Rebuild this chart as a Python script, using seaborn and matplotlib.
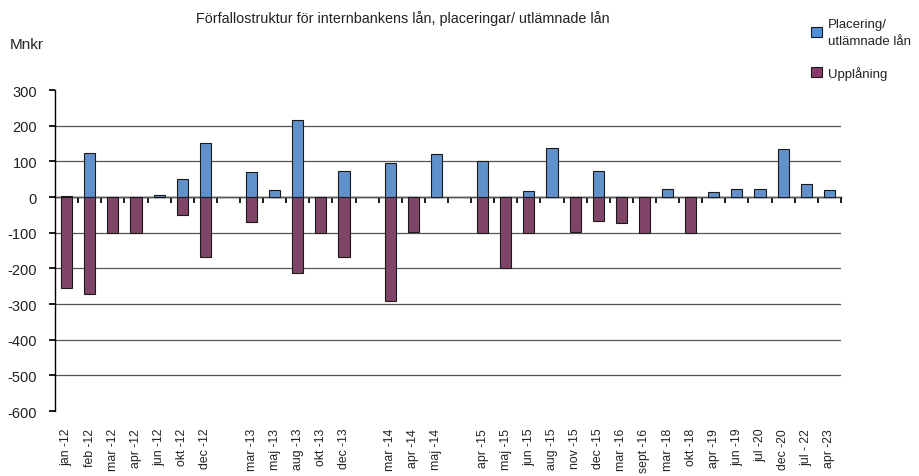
import numpy as np
import pandas as pd
import seaborn as sns
import matplotlib.pyplot as plt
from matplotlib.patches import Patch

# Data (Mnkr); blank names are empty slots on the axis
categories = ["jan -12", "feb -12", "mar -12", "apr -12", "jun -12", "okt -12", "dec -12", " ",
              "mar -13", "maj -13", "aug -13", "okt -13", "dec -13", "  ",
              "mar -14", "apr -14", "maj -14", "   ",
              "apr -15", "maj -15", "jun -15", "aug -15", "nov -15", "dec -15", "mar -16", "sept -16",
              "mar -18", "okt -18", "apr -19", "jun -19", "jul -20", "dec -20", "jul - 22", "apr -23"]
nan = np.nan
placering = [4, 124, nan, nan, 6, 51, 152, nan,
             70, 20, 217, nan, 74, nan,
             95, nan, 122, nan,
             100, nan, 18, 137, nan, 73, nan, nan,
             22, nan, 14, 24, 24, 135, 37, 20]
upplaning = [-254, -272, -100, -100, nan, -51, -168, nan,
             -71, nan, -214, -100, -167, nan,
             -290, -98, nan, nan,
             -100, -200, -100, nan, -97, -67, -72, -100,
             nan, -100, nan, nan, nan, nan, nan, nan]
series = ["Placering/\nutlämnade lån", "Upplåning"]
colors = ["#4f8fdc", "#8b3a6b"]

df = pd.DataFrame({
    "period": categories * 2,
    "serie": [series[0]] * len(categories) + [series[1]] * len(categories),
    "value": placering + upplaning,
})

sns.set_theme(style="white")
plt.rcParams['font.family'] = ['Liberation Sans', 'DejaVu Sans']
plt.rcParams['axes.unicode_minus'] = False

fig, ax = plt.subplots(figsize=(9.19, 4.77), dpi=100)
fig.subplots_adjust(left=0.06, right=0.915, bottom=0.136, top=0.809)

sns.barplot(data=df, x="period", y="value", hue="serie", order=categories, hue_order=series,
            palette=colors, dodge=False, width=0.48, errorbar=None,
            edgecolor="#1a1a1a", linewidth=0.8, ax=ax, legend=False)

ax.set_ylim(-600, 300)
ax.set_yticks(range(-600, 301, 100))
ax.set_xlim(-0.5, len(categories) - 0.5)
ax.set_xlabel("")
ax.set_ylabel("")

# horizontal gridlines, none at the top and bottom limits
ax.yaxis.grid(True, color="#555555", linewidth=0.9)
ax.set_axisbelow(True)
gl = ax.yaxis.get_gridlines()
gl[0].set_visible(False)
gl[-1].set_visible(False)

for s in ["top", "right", "bottom"]:
    ax.spines[s].set_visible(False)
ax.spines["left"].set_color("black")
ax.spines["left"].set_linewidth(1)

ax.tick_params(axis="y", left=True, length=4, direction="out", color="black", pad=9,
               labelsize=10.5, labelcolor="#222222")
ax.tick_params(axis="x", bottom=False, labelrotation=90, pad=6, labelsize=8.8,
               labelcolor="#222222")

# zero axis with tick marks between categories
sec = ax.secondary_xaxis(2 / 3)
sec.set_alignment("bottom")
sec.set_xticks(np.arange(0.5, len(categories), 1.0))
sec.tick_params(axis="x", direction="out", length=4, color="black", labelbottom=False, labeltop=False)
sec.spines["bottom"].set_color("black")
sec.spines["bottom"].set_linewidth(1)

fig.text(0.438, 0.962, "Förfallostruktur för internbankens lån, placeringar/ utlämnade lån",
         ha="center", va="center", fontsize=10.4, color="#222222")
fig.text(0.011, 0.906, "Mnkr", ha="left", va="center", fontsize=11, color="#222222")

handles = [Patch(facecolor=c, edgecolor="#1a1a1a", linewidth=0.8) for c in colors]
leg = fig.legend(handles, series, loc="upper left", bbox_to_anchor=(0.87, 0.985), frameon=False,
                 handlelength=0.8, handleheight=0.8, handletextpad=0.45, labelspacing=1.45,
                 fontsize=9.5, labelcolor="#222222")
for t in leg.get_texts():
    t.set_linespacing(1.5)

plt.savefig("out.png", dpi=100)
